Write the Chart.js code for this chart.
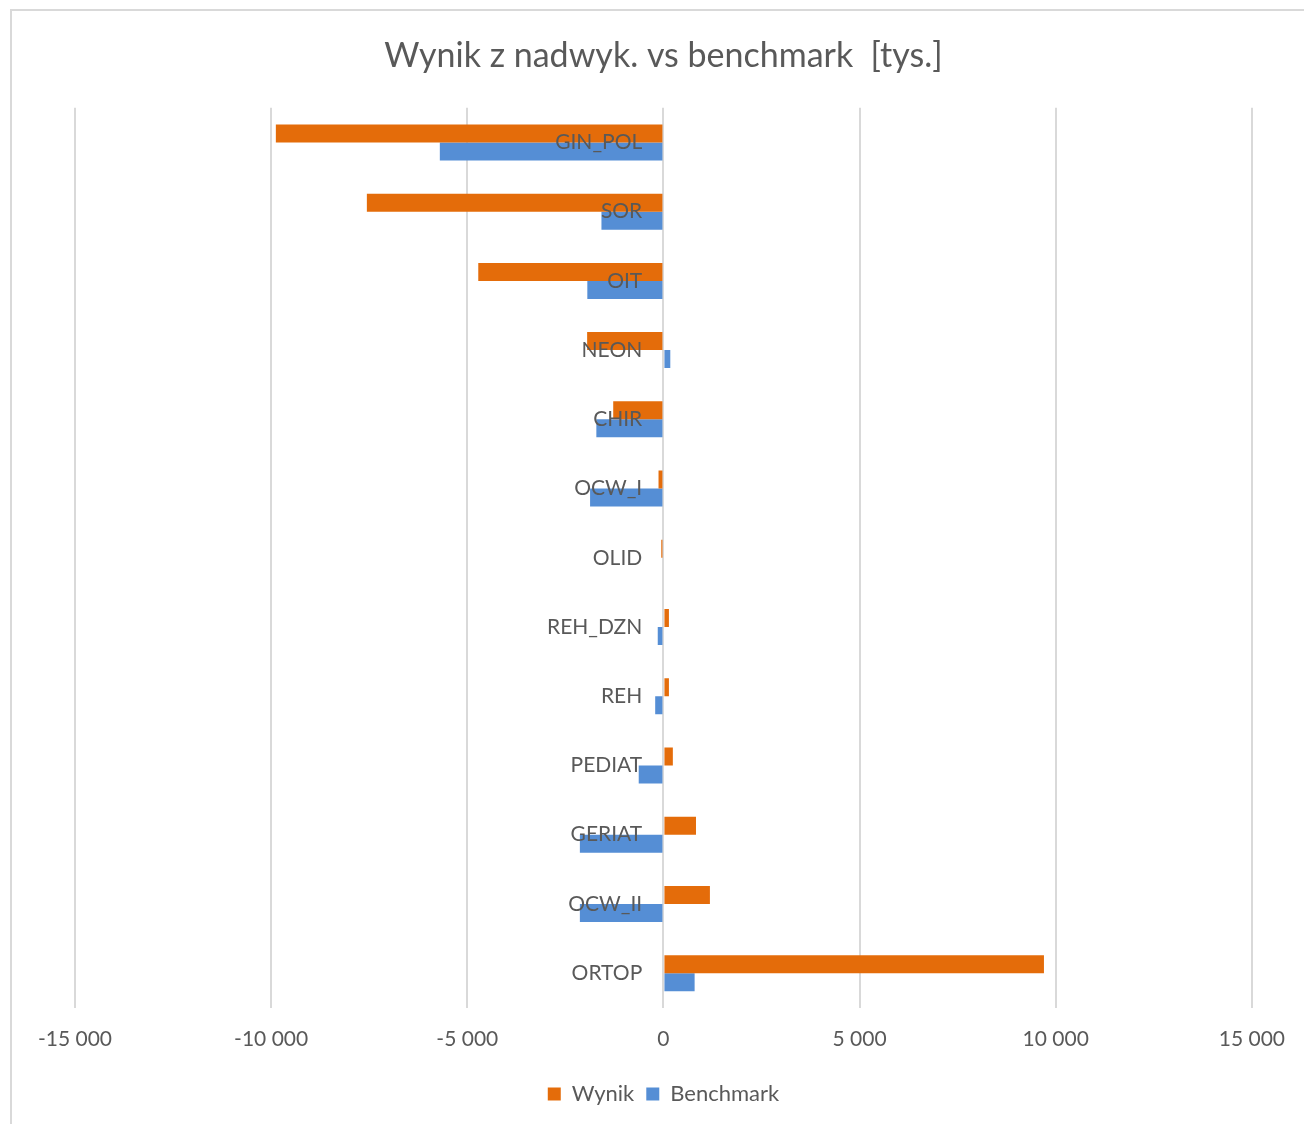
<!DOCTYPE html>
<html>
<head>
<meta charset="utf-8">
<script src="https://cdn.jsdelivr.net/npm/chart.js@4.4.1/dist/chart.umd.min.js"></script>
<style>
  html, body { margin: 0; padding: 0; background: #fff; }
  body { width: 1304px; height: 1124px; position: relative; overflow: hidden; }
  .frame {
    position: absolute; left: 10px; top: 9px; width: 1320px; height: 1140px;
    border-left: 2px solid #d9d9d9; border-top: 2px solid #d9d9d9;
  }
  #chart { position: absolute; left: 0; top: 0; }
</style>
</head>
<body>
<div class="frame"></div>
<canvas id="chart" width="1304" height="1124"></canvas>
<script>
const categories = ['GIN_POL', 'SOR', 'OIT', 'NEON', 'CHIR', 'OCW_I', 'OLID', 'REH_DZN', 'REH', 'PEDIAT', 'GERIAT', 'OCW_II', 'ORTOP']
const wynik = [-9880, -7560, -4720, -1945, -1280, -125, -55, 140, 140, 240, 830, 1185, 9700]
const benchmark = [-5700, -1580, -1940, 175, -1710, -1870, 0, -145, -210, -630, -2130, -2130, 795]
const xTicks = [-15000, -10000, -5000, 0, 5000, 10000, 15000]

const textColor = '#595959'
const font = 'Lato, "Open Sans", sans-serif'

function spaced(v) {
  const s = String(Math.abs(v)).replace(/\B(?=(\d{3})+(?!\d))/g, ' ')
  return (v < 0 ? '-' : '') + s
}

new Chart(document.getElementById('chart'), {
  type: 'bar',
  data: {
    labels: categories,
    datasets: [{
      label: 'Wynik',
      data: wynik,
      backgroundColor: '#e46c0a',
      borderWidth: 0
    }, {
      label: 'Benchmark',
      data: benchmark,
      backgroundColor: '#558ed5',
      borderWidth: 0
    }]
  },
  options: {
    indexAxis: 'y',
    responsive: false,
    animation: false,
    layout: { padding: { left: 75, right: 52, top: 10, bottom: 9 } },
    datasets: {
      bar: { categoryPercentage: 0.52, barPercentage: 1 }
    },
    scales: {
      x: {
        min: -15000,
        max: 15000,
        afterBuildTicks: scale => { scale.ticks = xTicks.map(v => ({ value: v })) },
        grid: { color: '#d9d9d9', lineWidth: 2, drawTicks: false },
        border: { display: false },
        ticks: {
          color: textColor,
          font: { family: font, size: 21 },
          padding: 19,
          maxRotation: 0,
          callback: v => spaced(v)
        }
      },
      y: {
        // category names sit just left of the zero line, over the bars
        position: { x: -540 },
        grid: { display: false, drawTicks: false },
        border: { display: false },
        ticks: {
          z: 1,
          color: textColor,
          font: { family: font, size: 21 },
          padding: 0
        }
      }
    },
    plugins: {
      title: {
        display: true,
        text: 'Wynik z nadwyk. vs benchmark  [tys.]',
        color: textColor,
        font: { family: font, size: 34, weight: 'normal' },
        padding: { top: 26, bottom: 31 }
      },
      legend: {
        position: 'bottom',
        labels: {
          color: textColor,
          font: { family: font, size: 22 },
          boxWidth: 13,
          boxHeight: 13,
          padding: 12
        }
      },
      tooltip: { enabled: false }
    }
  }
})
</script>
</body>
</html>
